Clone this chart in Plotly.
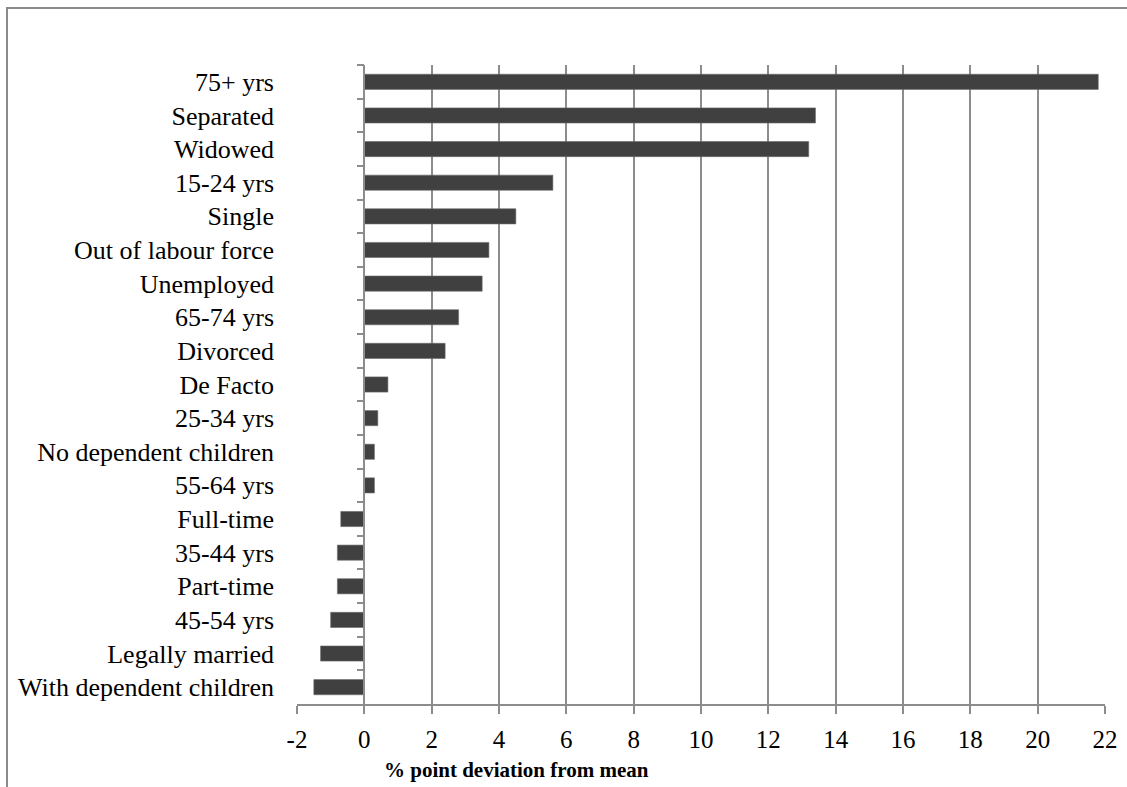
import plotly.graph_objects as go

categories = ["75+ yrs", "Separated", "Widowed", "15-24 yrs", "Single",
              "Out of labour force", "Unemployed", "65-74 yrs", "Divorced",
              "De Facto", "25-34 yrs", "No dependent children", "55-64 yrs",
              "Full-time", "35-44 yrs", "Part-time", "45-54 yrs",
              "Legally married", "With dependent children"]
values = [21.8, 13.4, 13.2, 5.6, 4.5, 3.7, 3.5, 2.8, 2.4, 0.7, 0.4, 0.3, 0.3,
          -0.7, -0.8, -0.8, -1.0, -1.3, -1.5]
x_ticks = list(range(-2, 23, 2))
x_title = "% point deviation from mean"

FONT = "Liberation Serif, Times New Roman, serif"
GRID = "#8c8c8c"
n = len(categories)
boundaries = [i - 0.5 for i in range(n + 1)]

fig = go.Figure()
fig.add_trace(go.Bar(
    x=values, y=categories, orientation="h", width=0.45,
    marker=dict(color="#404040", line=dict(color="#6a6a6a", width=0.6)),
    hoverinfo="x+y", showlegend=False,
))
# invisible trace carrying the category axis drawn at x = 0
fig.add_trace(go.Scatter(
    x=[0] * n, y=list(range(n)), yaxis="y2", mode="markers",
    marker=dict(opacity=0), hoverinfo="skip", showlegend=False,
))

fig.update_layout(
    width=1127, height=787,
    margin=dict(l=297, r=22, t=65, b=83, autoexpand=False),
    plot_bgcolor="white", paper_bgcolor="white",
    font=dict(family=FONT, color="black"),
    xaxis=dict(
        range=[-2, 22], tickvals=x_ticks, ticktext=[str(v) for v in x_ticks],
        showgrid=True, gridcolor=GRID, gridwidth=1.5,
        zeroline=False, showline=True, linecolor=GRID, linewidth=1.5,
        ticks="outside", ticklen=8, tickcolor=GRID, tickwidth=1.5,
        tickfont=dict(size=25, family=FONT), ticklabelstandoff=4,
    ),
    yaxis=dict(
        type="category", categoryorder="array", categoryarray=categories,
        range=[n - 0.5, -0.5], showgrid=False, zeroline=False, showline=False,
        ticks="", tickfont=dict(size=26, family=FONT), ticklabelstandoff=22,
    ),
    yaxis2=dict(
        type="linear", range=[n - 0.5, -0.5], overlaying="y", anchor="free",
        position=(0 - x_ticks[0]) / (x_ticks[-1] - x_ticks[0]),
        showgrid=False, zeroline=False, showline=True, linecolor=GRID,
        linewidth=1.5, ticks="outside", tickvals=boundaries[:-1], ticklen=7,
        tickcolor=GRID, tickwidth=1.5, showticklabels=False,
    ),
    shapes=[dict(type="rect", xref="paper", yref="paper",
                 x0=-0.3589, x1=1.1, y0=-0.3, y1=1.0892,
                 line=dict(color="#8a8a8a", width=2), fillcolor="rgba(0,0,0,0)",
                 layer="below")],
    annotations=[dict(text="<b>" + x_title + "</b>", xref="paper", yref="paper",
                      x=0.272, y=-0.103, xanchor="center", yanchor="middle",
                      showarrow=False, font=dict(size=21, family=FONT))],
)

fig.write_html(
    "out.html",
    config={"displayModeBar": False},
    post_script="document.body.style.margin='0';document.body.style.overflow='hidden';",
)
